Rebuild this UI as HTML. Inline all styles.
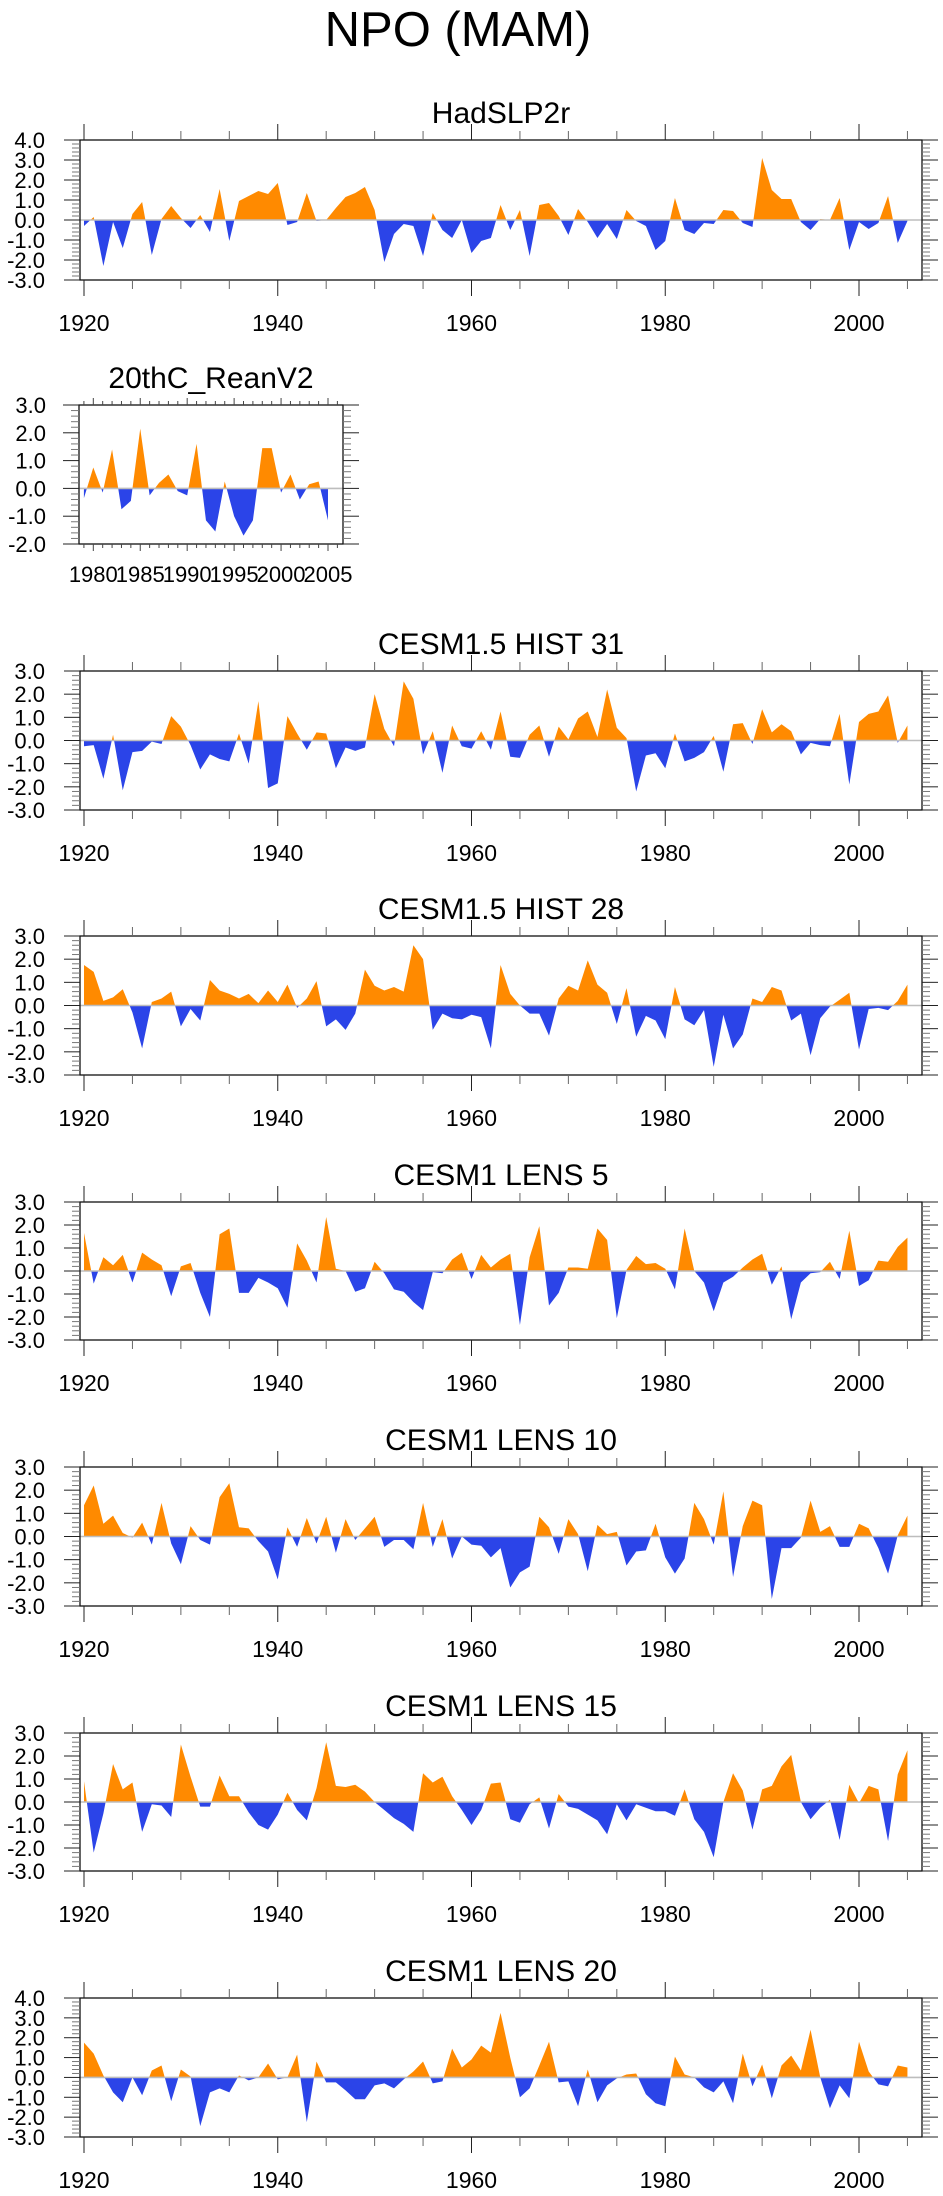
<!DOCTYPE html>
<html><head><meta charset="utf-8"><title>NPO (MAM)</title>
<style>
html,body{margin:0;padding:0;background:#fff;}
svg{display:block;font-family:"Liberation Sans",Arial,sans-serif;}
</style></head>
<body>
<svg id="chart" width="943" height="2196" viewBox="0 0 943 2196" xmlns="http://www.w3.org/2000/svg">
<text x="458" y="46" font-size="49" text-anchor="middle">NPO (MAM)</text>
</svg>
<script>
const years1920 = Array.from({length:86},(_,i)=>1920+i);
const yearsRean = Array.from({length:27},(_,i)=>1979+i);
const hadslp = [-0.3,0.15,-2.3,-0.1,-1.4,0.3,0.9,-1.75,0.05,0.7,0.1,-0.4,0.25,-0.6,1.55,-1.05,0.95,1.2,1.45,1.3,1.85,-0.25,-0.1,1.35,-0.05,0.0,0.6,1.15,1.35,1.65,0.5,-2.1,-0.7,-0.2,-0.3,-1.8,0.35,-0.5,-0.9,0.0,-1.65,-1.05,-0.9,0.75,-0.5,0.5,-1.8,0.75,0.85,0.2,-0.75,0.55,-0.1,-0.9,-0.2,-0.95,0.5,-0.05,-0.3,-1.5,-1.05,1.1,-0.5,-0.7,-0.15,-0.2,0.5,0.45,-0.15,-0.35,3.1,1.5,1.05,1.05,-0.1,-0.5,0.05,0.0,1.1,-1.5,-0.1,-0.45,-0.15,1.2,-1.15,-0.05];
const rean = [-0.35,0.75,-0.15,1.4,-0.75,-0.45,2.15,-0.25,0.2,0.5,-0.1,-0.25,1.6,-1.15,-1.55,0.25,-1.0,-1.7,-1.15,1.45,1.45,-0.15,0.5,-0.4,0.15,0.25,-1.15];
const hist31 = [-0.25,-0.2,-1.65,0.25,-2.15,-0.5,-0.45,-0.05,-0.15,1.05,0.6,-0.2,-1.25,-0.6,-0.8,-0.9,0.3,-1.0,1.7,-2.05,-1.85,1.05,0.3,-0.4,0.35,0.3,-1.2,-0.3,-0.45,-0.3,2.0,0.5,-0.25,2.55,1.8,-0.6,0.4,-1.4,0.65,-0.25,-0.35,0.4,-0.4,1.25,-0.7,-0.75,0.25,0.65,-0.7,0.6,0.05,0.95,1.25,0.15,2.2,0.55,0.1,-2.2,-0.65,-0.55,-1.2,0.3,-0.9,-0.75,-0.5,0.2,-1.35,0.7,0.75,-0.15,1.35,0.35,0.7,0.4,-0.6,-0.1,-0.2,-0.25,1.15,-1.9,0.8,1.15,1.25,1.95,-0.1,0.65];
const hist28 = [1.75,1.45,0.2,0.35,0.7,-0.3,-1.85,0.15,0.3,0.6,-0.9,-0.15,-0.65,1.1,0.65,0.5,0.3,0.5,0.1,0.65,0.15,0.9,-0.1,0.3,1.05,-0.9,-0.6,-1.05,-0.35,1.55,0.85,0.65,0.8,0.6,2.6,2.0,-1.05,-0.35,-0.55,-0.6,-0.4,-0.5,-1.85,1.75,0.5,0.0,-0.35,-0.35,-1.3,0.3,0.85,0.65,1.95,0.9,0.55,-0.8,0.75,-1.35,-0.45,-0.65,-1.45,0.8,-0.6,-0.85,-0.2,-2.65,-0.4,-1.85,-1.25,0.3,0.15,0.8,0.65,-0.65,-0.35,-2.15,-0.55,-0.05,0.25,0.55,-1.9,-0.15,-0.1,-0.2,0.2,0.9];
const lens5 = [1.65,-0.55,0.6,0.25,0.7,-0.5,0.8,0.5,0.25,-1.1,0.2,0.35,-0.95,-2.0,1.6,1.85,-0.95,-0.95,-0.3,-0.5,-0.75,-1.6,1.2,0.45,-0.5,2.35,0.1,0.0,-0.9,-0.75,0.4,-0.1,-0.8,-0.9,-1.35,-1.7,-0.05,-0.1,0.5,0.8,-0.35,0.7,0.15,0.5,0.75,-2.35,0.6,1.95,-1.5,-0.95,0.15,0.15,0.1,1.85,1.35,-2.05,0.05,0.65,0.3,0.35,0.1,-0.8,1.85,0.0,-0.5,-1.75,-0.5,-0.25,0.15,0.5,0.75,-0.6,0.2,-2.1,-0.5,-0.1,-0.05,0.4,-0.35,1.75,-0.65,-0.4,0.45,0.4,1.05,1.45];
const lens10 = [1.35,2.2,0.55,0.9,0.15,-0.05,0.6,-0.35,1.45,-0.3,-1.2,0.45,-0.15,-0.35,1.7,2.3,0.4,0.35,-0.2,-0.65,-1.85,0.4,-0.45,0.8,-0.3,0.85,-0.7,0.75,-0.15,0.35,0.85,-0.45,-0.15,-0.15,-0.55,1.45,-0.45,0.75,-0.95,0.0,-0.35,-0.4,-0.9,-0.5,-2.2,-1.55,-1.3,0.85,0.4,-0.75,0.75,0.1,-1.5,0.5,0.1,0.2,-1.25,-0.65,-0.6,0.55,-0.9,-1.6,-0.95,1.45,0.75,-0.35,1.95,-1.75,0.45,1.55,1.35,-2.7,-0.5,-0.5,-0.05,1.55,0.2,0.45,-0.45,-0.45,0.55,0.35,-0.5,-1.6,0.05,0.9];
const lens15 = [0.9,-2.2,-0.5,1.65,0.55,0.85,-1.3,-0.1,-0.15,-0.65,2.5,1.1,-0.2,-0.2,1.15,0.25,0.25,-0.45,-1.0,-1.2,-0.55,0.4,-0.35,-0.8,0.6,2.6,0.7,0.65,0.75,0.45,0.0,-0.35,-0.7,-0.95,-1.3,1.25,0.85,1.1,0.25,-0.35,-1.0,-0.35,0.8,0.85,-0.75,-0.9,-0.1,0.2,-1.15,0.35,-0.2,-0.3,-0.55,-0.8,-1.4,-0.1,-0.8,-0.1,-0.25,-0.4,-0.4,-0.6,0.55,-0.75,-1.3,-2.4,0.0,1.25,0.5,-1.2,0.55,0.7,1.55,2.05,0.0,-0.75,-0.25,0.1,-1.65,0.75,-0.05,0.7,0.55,-1.7,1.2,2.25];
const lens20 = [1.75,1.2,0.1,-0.75,-1.25,0.0,-0.9,0.35,0.6,-1.2,0.4,0.05,-2.45,-0.75,-0.55,-0.75,0.1,-0.15,0.0,0.7,-0.1,0.0,1.15,-2.25,0.8,-0.25,-0.25,-0.65,-1.1,-1.1,-0.4,-0.3,-0.55,-0.1,0.3,0.8,-0.3,-0.2,1.45,0.5,0.9,1.6,1.25,3.25,1.0,-1.0,-0.55,0.6,1.8,-0.25,-0.2,-1.45,0.4,-1.25,-0.4,-0.05,0.15,0.2,-0.85,-1.3,-1.45,1.05,0.15,0.0,-0.5,-0.75,-0.2,-1.3,1.2,-0.45,0.65,-1.05,0.6,1.1,0.35,2.4,0.0,-1.55,-0.4,-1.05,1.8,0.3,-0.35,-0.45,0.6,0.5];
const mainXTickLabels = ["1920","1940","1960","1980","2000"];
const reanXTickLabels = ["1980","1985","1990","1995","2000","2005"];

const NS="http://www.w3.org/2000/svg";
const svg=document.getElementById('chart');
function mk(tag,attrs,parent){const e=document.createElementNS(NS,tag);for(const k in attrs)e.setAttribute(k,attrs[k]);(parent||svg).appendChild(e);return e;}

const panels=[
 {name:'hadslp2r',title:'HadSLP2r',top:140,bot:280,ymin:-3,ymax:4,years:years1920,vals:hadslp,main:true},
 {name:'20thc-reanv2',title:'20thC_ReanV2',top:405,bot:544,ymin:-2,ymax:3,years:yearsRean,vals:rean,main:false},
 {name:'cesm15-hist31',title:'CESM1.5 HIST 31',top:671,bot:810,ymin:-3,ymax:3,years:years1920,vals:hist31,main:true},
 {name:'cesm15-hist28',title:'CESM1.5 HIST 28',top:936,bot:1075,ymin:-3,ymax:3,years:years1920,vals:hist28,main:true},
 {name:'cesm1-lens5',title:'CESM1 LENS 5',top:1202,bot:1340,ymin:-3,ymax:3,years:years1920,vals:lens5,main:true},
 {name:'cesm1-lens10',title:'CESM1 LENS 10',top:1467,bot:1606,ymin:-3,ymax:3,years:years1920,vals:lens10,main:true},
 {name:'cesm1-lens15',title:'CESM1 LENS 15',top:1733,bot:1871,ymin:-3,ymax:3,years:years1920,vals:lens15,main:true},
 {name:'cesm1-lens20',title:'CESM1 LENS 20',top:1998,bot:2137,ymin:-3,ymax:4,years:years1920,vals:lens20,main:true}
];

panels.forEach(p=>{
  const g=mk('g',{});
  
  
  let L,R,xs;
  if(p.main){L=80;R=922;xs=y=>84+(y-1920)*775/80;}
  else{L=79;R=343;xs=y=>93.3+(y-1980)*(328-93.3)/25;}
  const ys=v=>p.bot-(v-p.ymin)*(p.bot-p.top)/(p.ymax-p.ymin);
  const y0=ys(0);
  // fills
  const pts=[];
  for(let i=0;i<p.vals.length;i++){
    const x=xs(p.years[i]),v=p.vals[i];
    if(i>0){const pv=p.vals[i-1];if((pv>0&&v<0)||(pv<0&&v>0)){const px=xs(p.years[i-1]);const t=pv/(pv-v);pts.push([px+(x-px)*t,0]);}}
    pts.push([x,v]);
  }
  const x0=pts[0][0],xn=pts[pts.length-1][0];
  let dp='M'+x0+','+y0,dn='M'+x0+','+y0;
  pts.forEach(q=>{dp+=' L'+q[0].toFixed(2)+','+ys(Math.max(q[1],0)).toFixed(2);dn+=' L'+q[0].toFixed(2)+','+ys(Math.min(q[1],0)).toFixed(2);});
  dp+=' L'+xn+','+y0+' Z';dn+=' L'+xn+','+y0+' Z';
  const pos=mk('path',{d:dp,fill:'#ff8a00',stroke:'none'},g);
  
  
  const neg=mk('path',{d:dn,fill:'#2b44e8',stroke:'none'},g);
  
  
  const zl=mk('line',{x1:L,x2:R,y1:y0,y2:y0,stroke:'#bdbdbd','stroke-width':1.6},g);
  
  
  // box
  const box=mk('rect',{x:L,y:p.top,width:R-L,height:p.bot-p.top,fill:'none',stroke:'#111','stroke-width':1.3},g);
  
  
  // y ticks
  for(let k=0;k<=(p.ymax-p.ymin)*5;k++){
    const v=p.ymin+k*0.2,yy=ys(v),maj=k%5===0,len=maj?16:8;
    mk('line',{x1:L-len,x2:L,y1:yy,y2:yy,stroke:maj?'#222':'#777','stroke-width':1},g);
    mk('line',{x1:R,x2:R+len,y1:yy,y2:yy,stroke:maj?'#222':'#777','stroke-width':1},g);
    if(maj){
      const t=mk('text',{x:p.main?45:46,y:yy+8,'font-size':22,'text-anchor':'end'},g);
      
      
      t.textContent=(Math.round(v*10)/10).toFixed(1);
    }
  }
  // x ticks
  if(p.main){
    for(let yr=1920;yr<=2005;yr+=5){
      const x=xs(yr),maj=(yr%20===0),len=maj?16:9;
      mk('line',{x1:x,x2:x,y1:p.top-len,y2:p.top,stroke:maj?'#222':'#666','stroke-width':1},g);
      mk('line',{x1:x,x2:x,y1:p.bot,y2:p.bot+len,stroke:maj?'#222':'#666','stroke-width':1},g);
    }
    mainXTickLabels.forEach(s=>{
      const t=mk('text',{x:xs(+s),y:p.bot+51,'font-size':23,'text-anchor':'middle'},g);
      
      
      t.textContent=s;
    });
  } else {
    for(let yr=1979;yr<=2006;yr++){
      const x=xs(yr),maj=(yr%5===0),len=maj?7:4;
      mk('line',{x1:x,x2:x,y1:p.top-len,y2:p.top,stroke:'#444','stroke-width':1},g);
      mk('line',{x1:x,x2:x,y1:p.bot,y2:p.bot+len,stroke:'#444','stroke-width':1},g);
    }
    reanXTickLabels.forEach(s=>{
      const t=mk('text',{x:xs(+s),y:p.bot+38,'font-size':22,'text-anchor':'middle'},g);
      
      
      t.textContent=s;
    });
  }
  const tt=mk('text',{x:(L+R)/2,y:p.top-17,'font-size':30,'text-anchor':'middle'},g);
  
  
  tt.textContent=p.title;
});
</script>
</body></html>
